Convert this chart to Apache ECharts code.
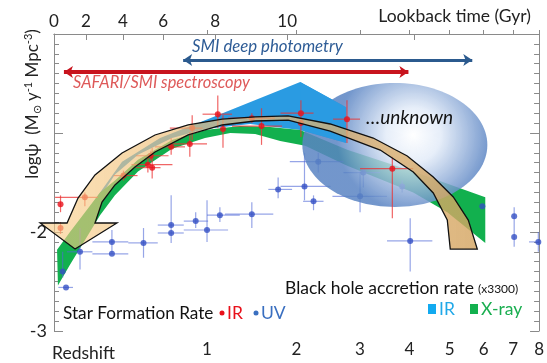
<!DOCTYPE html>
<html><head><meta charset="utf-8">
<script src="https://cdn.jsdelivr.net/npm/echarts@6/dist/echarts.min.js"></script>
<style>html,body{margin:0;padding:0;background:#fff}#c{width:547px;height:363px}</style>
</head><body><div id="c"></div>
<script>
// ---------------- data (redshift z, log psi) ----------------
const redshiftTicks = [1, 2, 3, 4, 5, 6, 7, 8];
const lookbackTicks = [0, 2, 4, 6, 8, 10, 12];          // Gyr
const lookbackLabels = ['0', '2', '4', '6', '8', '10'];
const lookbackRedshift = [0, 0.156, 0.367, 0.639, 1.075, 1.875, 4.11];
const yTickLabels = [-2, -3];

// [z, logpsi, zLo, zHi, logLo, logHi]
const irPoints = [
  [0.03, -1.72, 0.03, 0.03, -1.80, -1.63],
  [0.03, -1.96, 0.03, 0.03, -2.02, -1.90],
  [0.15, -1.65, 0.005, 0.22, -1.74, -1.60],
  [0.37, -1.43, 0.31, 0.46, -1.48, -1.38],
  [0.53, -1.32, 0.42, 0.71, -1.40, -1.25],
  [0.56, -1.35, 0.45, 0.62, -1.46, -1.15],
  [0.55, -1.23, 0.45, 0.68, -1.28, -1.18],
  [0.70, -1.14, 0.58, 0.81, -1.22, -1.05],
  [0.85, -1.11, 0.71, 1.00, -1.24, -0.99],
  [0.87, -0.95, 0.69, 0.96, -1.07, -0.82],
  [1.10, -0.81, 0.96, 1.24, -0.95, -0.62],
  [1.15, -0.96, 1.15, 1.15, -1.15, -0.82],
  [1.45, -0.85, 1.20, 1.72, -0.90, -0.80],
  [1.56, -0.93, 1.24, 1.81, -1.12, -0.75],
  [2.06, -0.80, 1.79, 2.24, -1.04, -0.67],
  [2.06, -0.90, 2.06, 2.06, -0.90, -0.90],
  [2.77, -0.86, 2.54, 3.00, -1.10, -0.67],
  [3.63, -1.36, 3.00, 4.09, -1.86, -1.24]
];
const uvPoints = [
  [0.04, -2.40, 0.04, 0.04, -2.46, -2.20],
  [0.056, -2.56, 0.02, 0.09, -2.56, -2.56],
  [0.125, -2.20, 0.06, 0.19, -2.38, -1.96],
  [0.30, -2.10, 0.19, 0.40, -2.21, -1.98],
  [0.30, -2.22, 0.19, 0.40, -2.22, -2.22],
  [0.50, -2.11, 0.40, 0.60, -2.26, -1.96],
  [0.70, -1.93, 0.60, 0.80, -2.11, -1.63],
  [0.70, -2.01, 0.60, 0.80, -2.01, -2.01],
  [0.90, -1.89, 0.80, 1.01, -1.96, -1.80],
  [1.00, -1.98, 0.80, 1.20, -2.10, -1.68],
  [1.12, -1.83, 1.00, 1.32, -1.90, -1.75],
  [1.45, -1.82, 1.17, 1.70, -1.96, -1.70],
  [1.76, -1.57, 1.64, 1.94, -1.66, -1.45],
  [2.11, -1.54, 1.79, 2.50, -1.68, -1.20],
  [2.24, -1.69, 2.09, 2.39, -1.78, -1.63],
  [2.31, -1.29, 1.91, 2.71, -1.40, -1.20],
  [3.06, -1.40, 2.71, 3.38, -1.55, -1.35],
  [3.00, -1.64, 2.53, 3.52, -1.80, -1.39],
  [3.84, -1.54, 3.84, 3.84, -1.60, -1.48],
  [4.02, -2.09, 3.52, 4.55, -2.40, -1.86],
  [5.96, -1.74, 5.96, 5.96, -1.74, -1.74],
  [7.04, -1.84, 7.04, 7.04, -1.95, -1.75],
  [7.04, -2.05, 7.04, 7.04, -2.15, -1.95],
  [7.97, -2.10, 7.60, 8.00, -2.20, -2.00]
];
// black hole accretion rate bands (outline, z / logpsi)
const bharIR = [
  [0.151, -2.03], [0.221, -1.63], [0.361, -1.29], [0.617, -1.05], [1.028, -0.85],
  [2.050, -0.485], [2.757, -0.74], [2.757, -1.10],
  [2.050, -0.97], [1.431, -0.91], [0.982, -0.96], [0.707, -1.05], [0.463, -1.22],
  [0.318, -1.42], [0.221, -1.68], [0.167, -1.98]
];
const bharXray = [
  [0.014, -2.18], [0.075, -2.00], [0.151, -1.80], [0.232, -1.60], [0.318, -1.48],
  [0.463, -1.27], [0.707, -1.07], [0.982, -0.97], [1.324, -0.93], [1.662, -0.94],
  [2.050, -0.97], [2.774, -1.17], [4.090, -1.39], [6.054, -1.65],
  [6.054, -2.11], [4.938, -1.80], [4.090, -1.60], [2.774, -1.33], [2.120, -1.13],
  [1.786, -1.08], [1.487, -1.01], [1.222, -1.00], [0.982, -1.05], [0.707, -1.16],
  [0.463, -1.39], [0.318, -1.63], [0.232, -1.83], [0.151, -2.08], [0.075, -2.33],
  [0.018, -2.54]
];
// curved star-formation-history arrow
const sfrArrow = [
  [-0.061, -1.909], [0.061, -1.909], [0.115, -1.657], [0.204, -1.424], [0.361, -1.202],
  [0.580, -1.020], [0.836, -0.919], [1.142, -0.859], [1.487, -0.838], [1.889, -0.828],
  [2.494, -0.909], [3.246, -1.051], [3.954, -1.232], [4.573, -1.444], [5.102, -1.646],
  [5.531, -1.879], [5.803, -2.172],
  [5.019, -2.172], [4.938, -1.879], [4.573, -1.606], [4.090, -1.394], [3.383, -1.172],
  [2.494, -0.980], [1.889, -0.869], [1.487, -0.879], [1.142, -0.919], [0.836, -1.020],
  [0.580, -1.192], [0.443, -1.343], [0.318, -1.525], [0.243, -1.697], [0.204, -1.909],
  [0.330, -1.909], [0.100, -2.172]
];
// "unknown" region: [zLeft, zRight, logTop, logBottom]
const unknownRegion = [2.08, 6.12, -0.495, -1.747];
// survey ranges: [zStart, zEnd, logpsi]
const smiPhotometry = [0.795, 5.65, -0.263];
const safariSpectroscopy = [0.046, 3.98, -0.384];

// ---------------- chart ----------------
const FONT = 'Lato, "Open Sans", sans-serif';
const plus1 = z => 1 + z;
const AX = '#8a8a8a';
const chart = echarts.init(document.getElementById('c'));

function toVal(v, list) {
  let i = list.findIndex(t => Math.abs(t - v) < 1e-4);
  if (i < 0) i = list.findIndex(t => Math.abs(Math.log10(t) - v) < 1e-4);
  return i;
}
const botVals = redshiftTicks.map(plus1);
const topVals = lookbackRedshift.map(plus1);
const topLabelVals = topVals.slice(0, lookbackLabels.length);

function polySeries(points, style, z, clip) {
  return {
    type: 'custom', coordinateSystem: 'cartesian2d', xAxisIndex: 0, yAxisIndex: 0,
    z: z, clip: !!clip, silent: true,
    data: [[1 + points[0][0], points[0][1]]],
    renderItem: (params, api) => ({
      type: 'polygon',
      shape: { points: points.map(p => api.coord([1 + p[0], p[1]])) },
      style: style
    })
  };
}

function errSeries(points, color, z) {
  return {
    type: 'custom', coordinateSystem: 'cartesian2d', z: z, silent: true, clip: false,
    data: points.map(p => [1 + p[0], p[1], 1 + p[2], 1 + p[3], p[4], p[5]]),
    encode: { x: 0, y: 1 },
    renderItem: (params, api) => {
      const x = api.value(0), y = api.value(1);
      const a = api.coord([api.value(2), y]), b = api.coord([api.value(3), y]);
      const c = api.coord([x, api.value(4)]), d = api.coord([x, api.value(5)]);
      const ch = [];
      if (Math.abs(b[0] - a[0]) > 0.5) ch.push({ type: 'line', shape: { x1: a[0], y1: a[1], x2: b[0], y2: b[1] }, style: { stroke: color, lineWidth: 1.2 } });
      if (Math.abs(d[1] - c[1]) > 0.5) ch.push({ type: 'line', shape: { x1: c[0], y1: c[1], x2: d[0], y2: d[1] }, style: { stroke: color, lineWidth: 1.2 } });
      return { type: 'group', children: ch };
    }
  };
}

const ellipseSeries = {
  type: 'custom', coordinateSystem: 'cartesian2d', z: 5, silent: true, clip: false,
  data: [[1 + unknownRegion[0], unknownRegion[2], 1 + unknownRegion[1], unknownRegion[3]]],
  encode: { x: 0, y: 1 },
  renderItem: (params, api) => {
    const p1 = api.coord([api.value(0), api.value(1)]);
    const p2 = api.coord([api.value(2), api.value(3)]);
    const cx = (p1[0] + p2[0]) / 2, cy = (p1[1] + p2[1]) / 2;
    const rx = Math.abs(p2[0] - p1[0]) / 2, ry = Math.abs(p2[1] - p1[1]) / 2;
    const pts = [];
    for (let i = 0; i < 120; i++) {
      const t = i / 120 * Math.PI * 2;
      pts.push([cx + rx * Math.cos(t), cy + ry * Math.sin(t)]);
    }
    return {
      type: 'polygon', shape: { points: pts },
      style: {
        fill: new echarts.graphic.RadialGradient(0.6, 0.42, 0.62, [
          { offset: 0, color: 'rgba(255,255,255,0.92)' },
          { offset: 0.35, color: 'rgba(226,235,248,0.82)' },
          { offset: 1, color: 'rgba(90,132,195,0.85)' }
        ])
      }
    };
  }
};

const axisCommon = {
  axisLine: { show: true, lineStyle: { color: AX, width: 1 } },
  splitLine: { show: false }
};
const FS = 17;

const option = {
  animation: false,
  grid: { left: 54, right: 7, top: 34, bottom: 32 },
  xAxis: [
    Object.assign({
      type: 'log', logBase: 10, min: 1, max: 9, position: 'bottom',
      axisTick: { show: true, inside: true, length: 4, customValues: botVals, lineStyle: { color: AX } },
      axisLabel: {
        customValues: botVals, margin: 10, fontSize: FS, color: '#222', fontFamily: FONT,
        formatter: v => { const i = toVal(v, botVals); return i >= 0 ? String(redshiftTicks[i]) : ''; }
      },
      minorTick: { show: false }
    }, axisCommon),
    Object.assign({
      type: 'log', logBase: 10, min: 1, max: 9, position: 'top',
      axisTick: { show: true, inside: true, length: 6, customValues: topVals, lineStyle: { color: AX } },
      axisLabel: {
        customValues: topLabelVals, margin: 4, fontSize: FS, color: '#222', fontFamily: FONT,
        formatter: v => { const i = toVal(v, topLabelVals); return i >= 0 ? lookbackLabels[i] : ''; }
      },
      minorTick: { show: false }
    }, axisCommon)
  ],
  yAxis: [
    Object.assign({
      type: 'value', min: -3, max: 0, interval: 1, position: 'left',
      axisTick: { show: true, inside: true, length: 9, lineStyle: { color: AX } },
      minorTick: { show: true, splitNumber: 10, length: 5, lineStyle: { color: AX } },
      axisLabel: {
        margin: 7, fontSize: 18, color: '#222', fontFamily: FONT,
        formatter: v => yTickLabels.indexOf(v) >= 0 ? String(v) : ''
      }
    }, axisCommon),
    Object.assign({
      type: 'value', min: -3, max: 0, interval: 1, position: 'right',
      axisTick: { show: true, inside: true, length: 9, lineStyle: { color: AX } },
      minorTick: { show: true, splitNumber: 10, length: 5, lineStyle: { color: AX } },
      axisLabel: { show: false }
    }, axisCommon)
  ],
  series: [
    polySeries(bharIR, { fill: '#2a9be2' }, 1, false),
    polySeries(bharXray, { fill: '#12b04e' }, 2, false),
    errSeries(uvPoints, 'rgba(80,105,215,0.6)', 3),
    {
      type: 'scatter', z: 4, symbolSize: 6, silent: true,
      itemStyle: { color: '#3450c4' },
      data: uvPoints.map(p => [1 + p[0], p[1]])
    },
    ellipseSeries,
    // IR accretion band where it rises above the "unknown" region
    polySeries(bharIR.slice(5, 9), { fill: '#2a9be2' }, 5.1, false),
    errSeries(irPoints, 'rgba(235,50,50,0.75)', 5.2),
    {
      type: 'scatter', z: 5.3, symbolSize: 6, silent: true,
      itemStyle: { color: '#e8101a' },
      data: irPoints.map(p => [1 + p[0], p[1]])
    },
    polySeries(sfrArrow, {
      fill: new echarts.graphic.LinearGradient(0, 0, 1, 0, [
        { offset: 0, color: 'rgba(250,205,135,0.62)' },
        { offset: 1, color: 'rgba(212,165,98,0.82)' }
      ]),
      stroke: '#111', lineWidth: 1.3, lineJoin: 'miter'
    }, 6, false),
    {
      type: 'lines', coordinateSystem: 'cartesian2d', z: 7, silent: true,
      symbol: ['arrow', 'arrow'], symbolSize: 9,
      data: [
        { coords: [[1 + smiPhotometry[0], smiPhotometry[2]], [1 + smiPhotometry[1], smiPhotometry[2]]],
          lineStyle: { color: '#2b5a8e', width: 3, opacity: 1 } },
        { coords: [[1 + safariSpectroscopy[0], safariSpectroscopy[2]], [1 + safariSpectroscopy[1], safariSpectroscopy[2]]],
          lineStyle: { color: '#c8141e', width: 4, opacity: 1 } }
      ]
    }
  ],
  graphic: [
    { type: 'text', z: 100, x: 531, y: 16, style: { text: 'Lookback time (Gyr)', align: 'right', verticalAlign: 'middle', fontSize: 17.5, fill: '#222', fontFamily: FONT } },
    { type: 'text', z: 100, x: 52, y: 353, style: { text: 'Redshift', align: 'left', verticalAlign: 'middle', fontSize: 17.5, fill: '#222', fontFamily: FONT } },
    { type: 'text', z: 100, x: 33, y: 104, rotation: Math.PI / 2, style: {
        text: '{n|logψ  (M}{sub|⊙}{n| y}{sup|-1}{n| Mpc}{sup|-3}{n|)}', align: 'center', verticalAlign: 'middle', fill: '#222', fontFamily: FONT,
        rich: {
          n: { fontSize: 17, lineHeight: 20, fontFamily: FONT, fill: '#222' },
          sup: { fontSize: 11, lineHeight: 20, verticalAlign: 'top', fontFamily: FONT, fill: '#222' },
          sub: { fontSize: 11, lineHeight: 20, verticalAlign: 'bottom', fontFamily: FONT, fill: '#222' }
        } } },
    { type: 'text', z: 100, x: 192, y: 47, style: { text: 'SMI deep photometry', verticalAlign: 'middle', fontSize: 16.8, fontStyle: 'italic', fill: '#2e5c96', fontFamily: FONT } },
    { type: 'text', z: 100, x: 73, y: 83, style: { text: 'SAFARI/SMI spectroscopy', verticalAlign: 'middle', fontSize: 16.4, fontStyle: 'italic', fill: '#de5a5a', fontFamily: FONT } },
    { type: 'text', z: 100, x: 366, y: 118, style: { text: '…unknown', verticalAlign: 'middle', fontSize: 19, fontStyle: 'italic', fill: '#111', fontFamily: FONT } },
    { type: 'text', z: 100, x: 63, y: 313, style: { text: 'Star Formation Rate', verticalAlign: 'middle', fontSize: 17.2, fill: '#111', fontFamily: FONT } },
    { type: 'circle', z: 100, shape: { cx: 222, cy: 313, r: 2.5 }, style: { fill: '#e8101a' } },
    { type: 'text', z: 100, x: 227, y: 313, style: { text: 'IR', verticalAlign: 'middle', fontSize: 17.5, fill: '#e8101a', fontFamily: FONT } },
    { type: 'circle', z: 100, shape: { cx: 256, cy: 313, r: 2.5 }, style: { fill: '#3a6fc0' } },
    { type: 'text', z: 100, x: 261, y: 313, style: { text: 'UV', verticalAlign: 'middle', fontSize: 17.5, fill: '#3a6fc0', fontFamily: FONT } },
    { type: 'text', z: 100, x: 285, y: 288, style: { text: 'Black hole accretion rate', verticalAlign: 'middle', fontSize: 17.5, fill: '#111', fontFamily: FONT } },
    { type: 'text', z: 100, x: 478, y: 289, style: { text: '(x3300)', verticalAlign: 'middle', fontSize: 12, fill: '#111', fontFamily: FONT } },
    { type: 'rect', z: 100, shape: { x: 428, y: 304, width: 8, height: 10 }, style: { fill: '#12aaf0' } },
    { type: 'text', z: 100, x: 439, y: 309, style: { text: 'IR', verticalAlign: 'middle', fontSize: 17.5, fill: '#20a8e8', fontFamily: FONT } },
    { type: 'rect', z: 100, shape: { x: 470, y: 304, width: 8, height: 10 }, style: { fill: '#12b04e' } },
    { type: 'text', z: 100, x: 481, y: 309, style: { text: 'X-ray', verticalAlign: 'middle', fontSize: 17.5, fill: '#1aae50', fontFamily: FONT } }
  ]
};
chart.setOption(option);
</script>
</body></html>
